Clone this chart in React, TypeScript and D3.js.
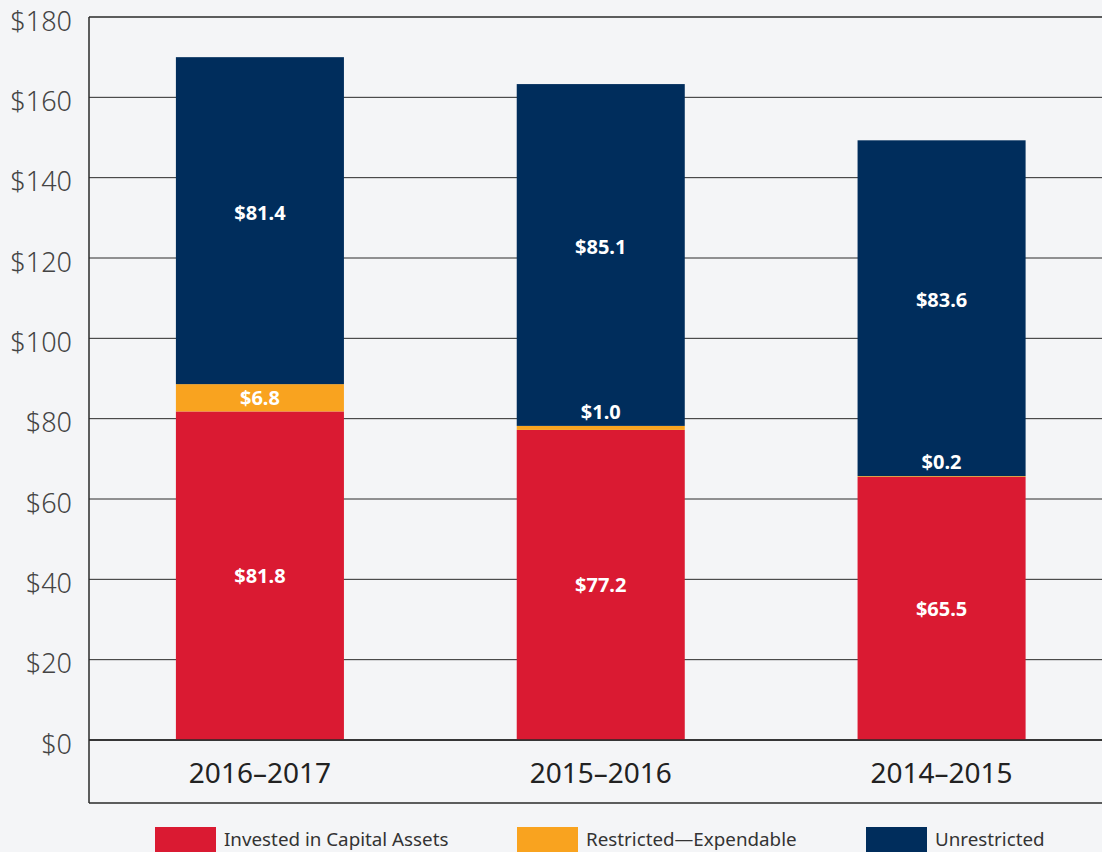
import React from "react";
import * as d3 from "d3";

const categories = ["2016–2017", "2015–2016", "2014–2015"];
const seriesNames = ["Invested in Capital Assets", "Restricted—Expendable", "Unrestricted"];
const invested = [81.8, 77.2, 65.5];
const restricted = [6.8, 1.0, 0.2];
const unrestricted = [81.4, 85.1, 83.6];
const yTicks = [0, 20, 40, 60, 80, 100, 120, 140, 160, 180];
const colors = ["#da1a32", "#f9a31f", "#002d5c"];

const W = 1102;
const H = 852;
const margin = { left: 89, top: 17, right: -10, axisBottom: 740, frameBottom: 803 };
const FONT = "'Noto Sans', 'Open Sans', sans-serif";

export default function App() {
  const x = d3
    .scaleBand<string>()
    .domain(categories)
    .range([margin.left + 0.5, W - margin.right])
    .paddingInner(0.507)
    .paddingOuter(0.2535);
  const y = d3.scaleLinear().domain([0, 180]).range([margin.axisBottom, margin.top]);

  const rows = categories.map((c, i) => ({
    cat: c,
    invested: invested[i],
    restricted: restricted[i],
    unrestricted: unrestricted[i],
  }));
  const keys = ["invested", "restricted", "unrestricted"];
  const stack = d3.stack<any>().keys(keys)(rows);

  const fmt = (v: number) => "$" + v.toFixed(1);

  return (
    <svg
      width={W}
      height={H}
      style={{ position: "absolute", left: 0, top: 0, display: "block" }}
      fontFamily={FONT}
    >
      <rect x={0} y={0} width={W} height={H} fill="#f4f5f7" />
      {yTicks.map((t) => (
        <line
          key={"g" + t}
          x1={margin.left}
          x2={W}
          y1={y(t)}
          y2={y(t)}
          stroke="#2a2a2a"
          strokeWidth={t === 0 || t === 180 ? 1.5 : 1}
        />
      ))}
      <line x1={margin.left} x2={margin.left} y1={margin.top} y2={margin.frameBottom} stroke="#2a2a2a" strokeWidth={1.5} />
      <line x1={margin.left} x2={W} y1={margin.frameBottom} y2={margin.frameBottom} stroke="#2a2a2a" strokeWidth={1.5} />
      {stack.map((layer, li) =>
        layer.map((d, i) => {
          const y0 = y(d[0]);
          const y1 = y(d[1]);
          return (
            <rect
              key={li + "-" + i}
              x={x(categories[i])}
              y={y1}
              width={x.bandwidth()}
              height={Math.max(0, y0 - y1)}
              fill={colors[li]}
            />
          );
        })
      )}
      <line x1={margin.left} x2={W} y1={y(0)} y2={y(0)} stroke="#2a2a2a" strokeWidth={1.5} />
      {stack.map((layer, li) =>
        layer.map((d, i) => {
          const y0 = y(d[0]);
          const y1 = y(d[1]);
          const h = y0 - y1;
          const v = d[1] - d[0];
          let cy = h < 22 ? y1 - 14 : (y0 + y1) / 2;
          if (li === 2) cy -= 8;
          return (
            <text
              key={"l" + li + "-" + i}
              x={(x(categories[i]) as number) + x.bandwidth() / 2}
              y={cy}
              dy="0.36em"
              textAnchor="middle"
              fill="#ffffff"
              fontWeight={700}
              fontSize={20}
            >
              {fmt(v)}
            </text>
          );
        })
      )}
      {yTicks.map((t) => (
        <text
          key={"t" + t}
          x={72}
          y={y(t) + 4}
          dy="0.36em"
          textAnchor="end"
          fill="#444"
          fontSize={27}
          fontWeight={300}
        >
          {"$" + t}
        </text>
      ))}
      {categories.map((c) => (
        <text
          key={"c" + c}
          x={(x(c) as number) + x.bandwidth() / 2}
          y={773}
          dy="0.36em"
          textAnchor="middle"
          fill="#222"
          fontSize={28}
        >
          {c}
        </text>
      ))}
      {seriesNames.map((s, i) => {
        const lx = [155, 517, 866][i];
        return (
          <g key={"lg" + i}>
            <rect x={lx} y={827} width={61} height={28} fill={colors[i]} />
            <text x={lx + 69} y={846} fill="#333" fontSize={18.8}>
              {s}
            </text>
          </g>
        );
      })}
    </svg>
  );
}
